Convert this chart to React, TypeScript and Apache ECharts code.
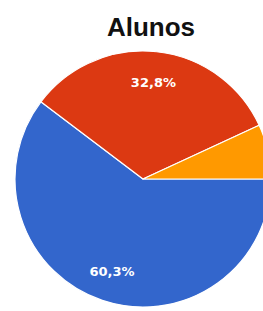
import React, { useEffect, useRef } from "react";
import * as echarts from "echarts";

const categories = ["Opção A", "Opção B", "Opção C"];
const values = [60.3, 32.8, 6.9];
const colors = ["#3366cc", "#dc3912", "#ff9900"];
const title = "Alunos";

export default function App() {
  const ref = useRef<HTMLDivElement>(null);
  useEffect(() => {
    if (!ref.current) return;
    const chart = echarts.init(ref.current, null, { renderer: "svg" });
    const data = categories.map((name, i) => ({ name, value: values[i], itemStyle: { color: colors[i] } }));
    const R = 128;
    chart.setOption({
      animation: false,
      backgroundColor: "#ffffff",
      title: {
        text: title,
        left: 146,
        top: 9,
        textAlign: "center",
        textStyle: { fontFamily: "Liberation Sans", fontWeight: "bold", fontSize: 26, color: "#111" },
      },
      series: [
        {
          type: "pie",
          center: [143, 179],
          radius: [0, R],
          startAngle: 0,
          clockwise: true,
          silent: true,
          label: { show: false },
          labelLine: { show: false },
          itemStyle: { borderColor: "#ffffff", borderWidth: 1.2 },
          data,
        },
        {
          type: "pie",
          center: [143, 179],
          radius: [Math.round(R * 0.48), R],
          startAngle: 0,
          clockwise: true,
          silent: true,
          itemStyle: { color: "transparent" },
          label: {
            show: true,
            position: "inside",
            color: "#ffffff",
            fontFamily: "DejaVu Sans",
            fontWeight: "bold",
            fontSize: 13,
            formatter: (p: any) => (p.value < 10 ? "" : p.value.toFixed(1).replace(".", ",") + "%"),
          },
          labelLine: { show: false },
          data: categories.map((name, i) => ({ name, value: values[i] })),
        },
      ],
    });
    return () => chart.dispose();
  }, []);
  return <div ref={ref} style={{ position: "fixed", left: 0, top: 0, width: 263, height: 311 }} />;
}
